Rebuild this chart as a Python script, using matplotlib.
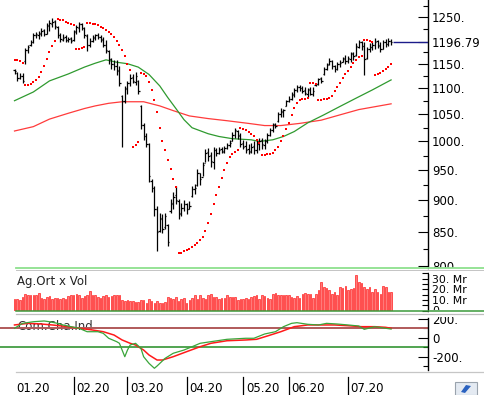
import matplotlib
matplotlib.use('Agg')
import matplotlib.pyplot as plt
import matplotlib.transforms as mtransforms
from matplotlib.ticker import FixedLocator, FixedFormatter, NullFormatter
from matplotlib.lines import Line2D
from matplotlib.patches import Rectangle, Polygon
import numpy as np

# --- data: daily bars (index 0 = first trading day of 01.20) ---
opens = [1138, 1130, 1120, 1125, 1155, 1178, 1190, 1196, 1210, 1210,
         1214, 1222, 1214, 1230, 1236, 1242, 1228, 1210, 1200, 1206,
         1199, 1204, 1200, 1218, 1226, 1236, 1226, 1208, 1190, 1198,
         1204, 1210, 1207, 1202, 1190, 1176, 1160, 1150, 1146, 1138,
         1085, 1075, 1098, 1110, 1122, 1112, 1115, 1065, 1030, 1010,
         995, 932, 920, 885, 852, 872, 857, 860, 882, 893,
         908, 898, 878, 887, 894, 886, 907, 918, 925, 945,
         938, 962, 982, 976, 963, 985, 980, 986, 982, 988,
         993, 1001, 1012, 1019, 1012, 997, 992, 986, 983, 992,
         985, 995, 1002, 994, 1000, 1012, 1020, 1032, 1038, 1050,
         1056, 1066, 1076, 1080, 1088, 1097, 1103, 1101, 1096, 1090,
         1098, 1090, 1106, 1108, 1120, 1128, 1140, 1149, 1156, 1145,
         1140, 1150, 1153, 1162, 1156, 1160, 1172, 1168, 1186, 1196,
         1188, 1162, 1180, 1184, 1189, 1198, 1190, 1181, 1196, 1192,
         1198]
highs = [1140, 1133, 1130, 1130, 1182, 1190, 1200, 1215, 1218, 1220,
         1226, 1224, 1237, 1244, 1248, 1245, 1230, 1215, 1212, 1210,
         1206, 1206, 1222, 1232, 1240, 1238, 1228, 1212, 1205, 1210,
         1213, 1215, 1210, 1207, 1200, 1178, 1162, 1158, 1157, 1145,
         1087, 1105, 1115, 1129, 1128, 1133, 1117, 1068, 1034, 1015,
         997, 934, 923, 890, 880, 878, 880, 862, 902, 913,
         923, 902, 895, 900, 895, 898, 923, 926, 951, 945,
         963, 986, 988, 982, 991, 988, 991, 990, 992, 997,
         1003, 1017, 1025, 1020, 1015, 1003, 1000, 995, 997, 1000,
         1003, 1007, 1007, 1005, 1015, 1025, 1034, 1034, 1055, 1062,
         1060, 1078, 1085, 1093, 1101, 1107, 1107, 1105, 1103, 1101,
         1103, 1102, 1111, 1121, 1123, 1143, 1151, 1162, 1158, 1147,
         1153, 1157, 1164, 1168, 1166, 1175, 1175, 1193, 1200, 1198,
         1195, 1185, 1193, 1195, 1204, 1200, 1195, 1200, 1203, 1204,
         1203]
lows = [1128, 1115, 1118, 1110, 1150, 1172, 1188, 1193, 1205, 1203,
        1208, 1208, 1212, 1220, 1228, 1225, 1205, 1196, 1198, 1196,
        1195, 1194, 1198, 1212, 1218, 1222, 1205, 1176, 1186, 1196,
        1200, 1203, 1196, 1185, 1173, 1150, 1140, 1137, 1127, 1105,
        990, 1072, 1090, 1105, 1110, 1107, 1090, 1022, 1003, 990,
        930, 913, 875, 822, 850, 848, 855, 828, 880, 886,
        894, 870, 875, 882, 878, 885, 905, 910, 923, 925,
        939, 963, 965, 955, 951, 975, 978, 980, 980, 986,
        990, 1000, 1007, 1005, 990, 986, 980, 978, 980, 977,
        980, 985, 987, 987, 997, 1009, 1018, 1025, 1036, 1045,
        1045, 1065, 1074, 1078, 1083, 1093, 1095, 1091, 1088, 1083,
        1088, 1085, 1105, 1107, 1110, 1127, 1137, 1147, 1140, 1133,
        1138, 1143, 1153, 1150, 1152, 1153, 1158, 1166, 1183, 1178,
        1127, 1160, 1175, 1178, 1180, 1182, 1175, 1180, 1185, 1188,
        1190]
closes = [1135, 1120, 1125, 1115, 1178, 1186, 1196, 1210, 1212, 1215,
          1220, 1212, 1232, 1238, 1240, 1230, 1210, 1202, 1205, 1200,
          1203, 1198, 1220, 1228, 1236, 1226, 1210, 1190, 1198, 1206,
          1210, 1207, 1200, 1190, 1178, 1160, 1150, 1145, 1135, 1110,
          1075, 1100, 1110, 1120, 1115, 1125, 1095, 1030, 1010, 995,
          940, 920, 885, 850, 870, 855, 875, 835, 895, 905,
          900, 880, 888, 893, 885, 890, 918, 920, 945, 935,
          958, 980, 975, 965, 985, 980, 985, 983, 988, 993,
          998, 1012, 1020, 1010, 995, 990, 985, 982, 990, 985,
          995, 1000, 995, 1000, 1012, 1020, 1030, 1028, 1050, 1055,
          1058, 1075, 1080, 1090, 1097, 1102, 1100, 1095, 1092, 1097,
          1090, 1095, 1108, 1118, 1115, 1140, 1148, 1155, 1145, 1140,
          1150, 1152, 1160, 1155, 1162, 1170, 1165, 1188, 1196, 1188,
          1160, 1180, 1185, 1190, 1195, 1188, 1180, 1195, 1192, 1198,
          1196.79]

# parabolic SAR dots
sar = [1158, 1157, 1155, 1152, 1107, 1107, 1108, 1112, 1116, 1123,
       1132, 1145, 1160, 1175, 1187, 1197, 1247, 1245, 1243, 1240,
       1238, 1235, 1233, 1180, 1181, 1183, 1185, 1238, 1237, 1236,
       1234, 1232, 1229, 1226, 1222, 1218, 1213, 1206, 1198, 1189,
       1178, 1166, 1150, 1137, 990, 994, 999, 1131, 1128, 1124,
       1112, 1097, 1078, 1055, 1025, 1000, 985, 968, 951, 934,
       921, 818, 819, 821, 823, 825, 827, 830, 833, 837,
       842, 852, 864, 878, 893, 908, 922, 936, 950, 962,
       972, 978, 982, 985, 1025, 1023, 1020, 1017, 1013, 1009,
       1003, 997, 976, 976, 977, 978, 980, 985, 991, 1000,
       1010, 1022, 1034, 1048, 1062, 1072, 1077, 1079, 1080, 1081,
       1111, 1110, 1108, 1077, 1078, 1079, 1080, 1082, 1085, 1094,
       1102, 1110, 1120, 1129, 1136, 1144, 1152, 1158, 1163, 1167,
       1201, 1199, 1197, 1195, 1127, 1129, 1131, 1135, 1139, 1144,
       1150]

# moving averages (read at sample bars)
ma_green_x = [0, 7, 13, 20, 26, 30, 34, 38, 42, 46, 50, 54, 57, 60, 63, 66,
              72, 76, 81, 88, 91, 96, 100, 104, 109, 115, 121, 127, 133, 140]
ma_green = [1076, 1093, 1115, 1129, 1143, 1151, 1158, 1153, 1150, 1143, 1128,
            1105, 1082, 1061, 1040, 1025, 1014, 1009, 1005, 1003, 1000, 1003,
            1009, 1018, 1034, 1049, 1065, 1081, 1097, 1117]
ma_red_x = [0, 7, 13, 20, 26, 30, 35, 40, 48, 54, 59, 65, 72, 79, 87, 93,
            99, 106, 114, 121, 128, 140]
ma_red = [1019, 1027, 1041, 1052, 1061, 1066, 1071, 1074, 1074, 1066, 1057,
          1047, 1042, 1038, 1033, 1029, 1029, 1033, 1039, 1049, 1059, 1070]

# Ag.Ort x Vol (Mr)
volume = [11.0, 10.6, 9.6, 12.8, 15.9, 15.0, 14.3, 14.3, 14.3, 16.5,
          11.8, 11.2, 12.8, 13.4, 11.2, 11.8, 11.8, 11.2, 11.8, 10.6,
          13.4, 15.0, 14.3, 15.3, 14.3, 11.8, 13.4, 15.0, 18.1, 14.3,
          14.3, 12.8, 11.8, 13.4, 14.3, 12.8, 13.4, 14.3, 15.0, 15.0,
          9.6, 8.7, 10.2, 8.7, 8.7, 8.0, 8.0, 9.6, 9.6, 7.4,
          10.6, 8.7, 7.4, 8.7, 7.4, 7.1, 8.0, 12.8, 11.8, 10.6,
          12.8, 8.7, 10.6, 11.8, 7.4, 9.6, 11.8, 15.0, 10.6, 15.0,
          11.8, 10.6, 15.0, 15.9, 12.8, 12.8, 10.6, 11.8, 11.8, 15.0,
          12.8, 12.8, 12.8, 9.6, 10.6, 11.2, 11.8, 10.6, 12.8, 13.4,
          14.3, 10.6, 14.3, 13.4, 11.8, 10.6, 15.9, 16.8, 14.3, 14.3,
          15.0, 14.3, 15.0, 12.8, 11.8, 13.4, 11.8, 15.9, 16.5, 15.9,
          15.3, 11.8, 15.3, 19.0, 26.9, 22.2, 21.2, 19.0, 15.3, 17.5,
          14.3, 22.2, 21.2, 23.1, 19.0, 20.0, 21.2, 33.8, 26.9, 26.3,
          22.2, 20.6, 22.2, 17.5, 20.0, 17.5, 15.9, 23.1, 22.2, 17.5,
          17.5]

# Com.Cha.Ind (green) and its smoothed line (red)
cci_x = [0, 3, 7, 11, 13, 16, 18, 21, 24, 27, 31, 33, 35, 38, 39, 41, 42, 43,
         45, 47, 48, 50, 52, 53, 56, 59, 63, 66, 69, 73, 79, 86, 89, 93, 97,
         100, 103, 105, 109, 113, 116, 120, 124, 128, 130, 134, 138, 140]
cci = [97, 149, 166, 174, 166, 149, 132, 114, 97, 61, 61, 44, -8, -44, -61,
       -202, -132, -79, -61, -114, -202, -272, -324, -300, -219, -166, -132,
       -97, -61, -44, -19, -8, -8, 37, 61, 114, 149, 156, 139, 132, 149, 142,
       132, 121, 86, 114, 97, 89]
cci_sig_x = [0, 5, 10, 14, 20, 24, 29, 33, 37, 40, 43, 45, 48, 50, 53, 55, 59,
             64, 69, 73, 79, 86, 90, 94, 99, 104, 109, 114, 119, 124, 129, 134,
             138, 140]
cci_sig = [132, 149, 142, 132, 114, 97, 79, 61, 26, -26, -61, -79, -132, -184,
           -237, -237, -202, -149, -97, -61, -34, -26, -19, 16, 61, 114, 132,
           132, 132, 124, 114, 114, 107, 97]

month_x = [22, 42, 64, 85, 102, 124]
month_labels = ['02.20', '03.20', '04.20', '05.20', '06.20', '07.20']

price_ticks = [800, 850, 900, 950, 1000, 1050, 1100, 1150, 1196.79, 1250]
price_labels = ['800.', '850.', '900.', '950.', '1000.', '1050.', '1100.',
                '1150.', '1196.79', '1250.']
price_minor = [825, 875, 925, 975, 1025, 1075, 1125, 1175, 1225, 1275]

W, H = 485, 395
fig = plt.figure(figsize=(W / 100, H / 100), dpi=100)
plt.rcParams['font.family'] = ['DejaVu Sans']


def fx(px):
    return px / W


def fy(py):
    return 1 - py / H


# bar i sits at pixel 14.5 + 2.69*i; axes span pixels 0..428
xlo, xhi = -14.5 / 2.69, (428 - 14.5) / 2.69

ax1 = fig.add_axes([0, fy(268), fx(428), 268 / H])
ax2 = fig.add_axes([0, fy(310.5), fx(428), 40 / H])
ax3 = fig.add_axes([0, fy(371), fx(428), 57 / H])

for ax in (ax1, ax2, ax3):
    ax.set_xlim(xlo, xhi)
    for s in ('top', 'left', 'bottom'):
        ax.spines[s].set_visible(False)
    ax.spines['right'].set_linewidth(1.0)
    ax.set_xticks([])
    ax.yaxis.tick_right()

x = np.arange(len(closes))

# ---- price panel ----
ax1.plot(ma_red_x, ma_red, color='#ff3b3b', lw=0.9, zorder=2)
ax1.plot(ma_green_x, ma_green, color='#2f9a2f', lw=0.9, zorder=2)
ax1.vlines(x, lows, highs, color='black', lw=0.9, zorder=3)
ax1.hlines(opens, x - 0.5, x, color='black', lw=0.9, zorder=3)
ax1.hlines(closes, x, x + 0.5, color='black', lw=0.9, zorder=3)
ax1.plot(x, sar, ls='none', marker='s', ms=2.0, color='#ff0000', mew=0, zorder=4)
ax1.hlines(closes[-1], x[-1] + 0.6, xhi, color='#1c1c8a', lw=1.0, zorder=4)

ax1.set_yscale('log')
ax1.set_ylim(796.6, 1289.5)
ax1.yaxis.set_major_locator(FixedLocator(price_ticks))
ax1.yaxis.set_major_formatter(FixedFormatter(price_labels))
ax1.yaxis.set_minor_locator(FixedLocator(price_minor))
ax1.yaxis.set_minor_formatter(NullFormatter())
ax1.tick_params(axis='y', which='major', direction='in', length=7, width=0.8,
                pad=3, labelsize=8.5)
ax1.tick_params(axis='y', which='minor', direction='in', length=3.6, width=0.8)

# ---- volume panel ----
ax2.bar(x, volume, width=0.6, color='#ff7a7a', edgecolor='#ff1010', lw=0.45)
ax2.set_ylim(0, 37.7)
ax2.spines['right'].set_bounds(0, 35)
ax2.yaxis.set_major_locator(FixedLocator([0, 10, 20, 30]))
ax2.yaxis.set_major_formatter(FixedFormatter(['0', '10. Mr', '20. Mr', '30. Mr']))
ax2.yaxis.set_minor_locator(FixedLocator([5, 15, 25, 35]))
ax2.tick_params(axis='y', which='both', direction='in', length=4.5, width=0.8,
                pad=3, labelsize=7.8)
ax2.text(fx(17), fy(281), 'Ag.Ort x Vol', transform=fig.transFigure,
         fontsize=8.5, va='center', ha='left', color='#222222')

# ---- CCI panel ----
ax3.text(fx(17), fy(326.5), 'Com.Cha.Ind', transform=fig.transFigure,
         fontsize=8.5, va='center', ha='left', color='#333333', zorder=1)
ax3.axhline(100, color='#b05a5a', lw=1.4, zorder=2)
ax3.axhline(-100, color='#228b22', lw=1.1, zorder=2)
ax3.plot(cci_sig_x, cci_sig, color='#ff1a1a', lw=1.1, zorder=3)
ax3.plot(cci_x, cci, color='#3aa53a', lw=0.9, zorder=3)
ax3.set_ylim(-352.6, 247.4)
ax3.spines['right'].set_bounds(-342, 205)
ax3.yaxis.set_major_locator(FixedLocator([200, 0, -200]))
ax3.yaxis.set_major_formatter(FixedFormatter(['200.', '0', '-200.']))
ax3.yaxis.set_minor_locator(FixedLocator([100, -100, -300]))
ax3.tick_params(axis='y', which='major', direction='in', length=7, width=0.8,
                pad=3, labelsize=8.5)
ax3.tick_params(axis='y', which='minor', direction='in', length=3.6, width=0.8)

# month labels under the CCI panel
blend = mtransforms.blended_transform_factory(ax3.transData, fig.transFigure)
ax3.text(0.55, fy(388), '01.20', transform=blend, fontsize=8.5, va='center',
         ha='left', clip_on=False)
for mx, lab in zip(month_x, month_labels):
    ax3.plot([mx, mx], [fy(376.5), fy(393.5)], color='black', lw=0.9,
             transform=blend, clip_on=False)
    ax3.text(mx + 1.0, fy(388), lab, transform=blend, fontsize=8.5,
             va='center', ha='left', clip_on=False)

# panel separators (covering label overflow like the original)
for y0, y1 in ((268, 274), (310.5, 316.5)):
    fig.add_artist(Rectangle((fx(429.5), fy(y1)), fx(485) - fx(429.5),
                             fy(y0) - fy(y1), transform=fig.transFigure,
                             facecolor='white', edgecolor='none', zorder=10))
seps = [(267.8, '#8ee08e', 1.3), (269.8, '#c4c4c4', 0.7),
        (310.5, '#3a9a3a', 1.1), (313.9, '#bdbdbd', 0.9),
        (371.6, '#c6c6c6', 0.9)]
for py, col, lw in seps:
    fig.add_artist(Line2D([fx(16), 1], [fy(py), fy(py)], color=col, lw=lw,
                          transform=fig.transFigure, zorder=11))

# 1300 label cut at the top edge
fig.text(fx(432), fy(-4.6), '1300.', fontsize=8.5, va='center', ha='left')

# small button in the bottom right corner
fig.add_artist(Rectangle((fx(455), fy(395)), fx(22), 13 / H,
                         transform=fig.transFigure, facecolor='#e4eaf2',
                         edgecolor='#9aa3ad', lw=0.8, zorder=10))
fig.add_artist(Polygon([(fx(461), fy(392)), (fx(466), fy(385)),
                        (fx(471), fy(386)), (fx(465), fy(393))],
                       closed=True, transform=fig.transFigure,
                       facecolor='#2a62c0', edgecolor='none', zorder=11))

fig.savefig('out.png', dpi=100)
